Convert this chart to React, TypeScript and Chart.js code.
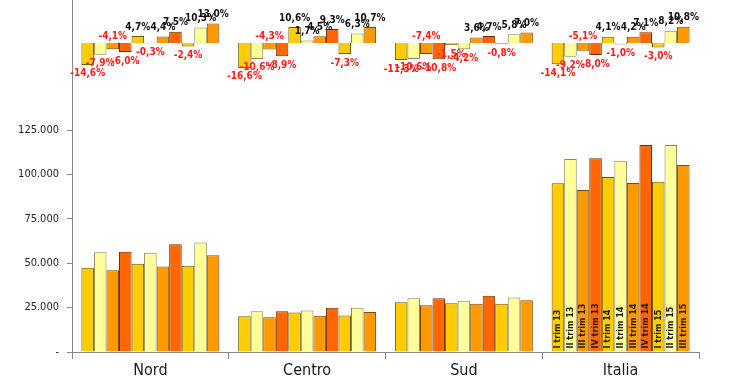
import React, { useEffect, useRef } from 'react';
import { Chart, registerables } from 'chart.js';

Chart.register(...registerables);

const regions = ['Nord', 'Centro', 'Sud', 'Italia'];
const quarters = ['I trim 13', 'II trim 13', 'III trim 13', 'IV trim 13', 'I trim 14', 'II trim 14', 'III trim 14', 'IV trim 14', 'I trim 15', 'II trim 15', 'III trim 15'];

// values per quarter (same order as quarters)
const nord = [47500, 56100, 46000, 56450, 49750, 55900, 48200, 60650, 48600, 61700, 54450];
const centro = [20100, 22900, 19550, 22900, 22200, 23300, 20450, 24950, 20600, 24950, 22550];
const sud = [27950, 30250, 26300, 30200, 27450, 28900, 27200, 31650, 27200, 30700, 29100];
const italia = [94950, 108700, 91200, 109050, 98600, 107700, 95150, 116550, 95800, 116500, 105300];

// year-over-year % change per quarter
const nordPct = [-14.6, -7.9, -4.1, -6.0, 4.7, -0.3, 4.4, 7.5, -2.4, 10.3, 13.0];
const centroPct = [-16.6, -10.6, -4.3, -8.9, 10.6, 1.7, 4.5, 9.3, -7.3, 6.3, 10.7];
const sudPct = [-11.3, -10.6, -7.4, -10.8, -1.5, -4.2, 3.6, 4.7, -0.8, 5.8, 7.0];
const italiaPct = [-14.1, -9.2, -5.1, -8.0, 4.1, -1.0, 4.2, 7.1, -3.0, 8.2, 10.8];

const yTickValues = [0, 25000, 50000, 75000, 100000, 125000];
// series whose % labels sit above the zero line
const labelAboveBase = ['III trim 13'];

const fills = ['#FFCC00', '#FFFF99', '#FF9900', '#FF6600'];
const borders = ['#6e5800', '#85855e', '#7e4a00', '#6e2a00'];
const FONT = "Tahoma, 'DejaVu Sans Condensed', 'Liberation Sans', sans-serif";

function fmt(v: number): string {
  if (v === 0) return '-';
  return String(Math.round(v)).replace(/\B(?=(\d{3})+(?!\d))/g, '.');
}

function fmtPct(v: number): string {
  return v.toFixed(1).replace('.', ',') + '%';
}

export default function App() {
  const ref = useRef<HTMLCanvasElement | null>(null);

  useEffect(() => {
    if (!ref.current) return;
    const values = [nord, centro, sud, italia];
    const pcts = [nordPct, centroPct, sudPct, italiaPct];
    const datasets: any[] = [];
    quarters.forEach((q, i) => {
      const c = fills[i % 4];
      const b = borders[i % 4];
      datasets.push({
        label: q,
        data: values.map((arr) => arr[i]),
        yAxisID: 'y',
        stack: 's' + i,
        backgroundColor: c,
        borderColor: b,
        borderWidth: 1,
        _kind: 'main',
      });
      datasets.push({
        label: q,
        data: pcts.map((arr) => arr[i]),
        yAxisID: 'y2',
        stack: 's' + i,
        backgroundColor: c,
        borderColor: b,
        borderWidth: 1,
        _kind: 'pct',
      });
    });

    const labelPlugin = {
      id: 'labels',
      afterDatasetsDraw(chart: any) {
        const ctx = chart.ctx;
        ctx.save();
        chart.data.datasets.forEach((ds: any, di: number) => {
          const meta = chart.getDatasetMeta(di);
          if (ds._kind === 'pct') {
            ctx.font = `bold 10px ${FONT}`;
            ctx.textAlign = 'center';
            ctx.textBaseline = 'middle';
            const above = labelAboveBase.includes(ds.label);
            meta.data.forEach((el: any, j: number) => {
              const v = ds.data[j];
              if (v >= 0) {
                ctx.fillStyle = '#111111';
                ctx.fillText(fmtPct(v), el.x, el.y - 9);
              } else {
                ctx.fillStyle = '#FF1A1A';
                if (above) ctx.fillText(fmtPct(v), el.x, el.base - 7);
                else ctx.fillText(fmtPct(v), el.x, el.y + 9);
              }
            });
          } else {
            const el = meta.data[3];
            if (!el) return;
            ctx.save();
            ctx.translate(el.x, el.base - 3);
            ctx.rotate(-Math.PI / 2);
            ctx.font = `bold 9px ${FONT}`;
            ctx.textAlign = 'left';
            ctx.textBaseline = 'middle';
            ctx.fillStyle = '#1a1a1a';
            ctx.fillText(ds.label, 0, 0);
            ctx.restore();
          }
        });
        ctx.restore();
      },
    };

    const chart = new Chart(ref.current, {
      type: 'bar',
      data: { labels: regions, datasets },
      plugins: [labelPlugin],
      options: {
        animation: false,
        responsive: false,
        maintainAspectRatio: false,
        categoryPercentage: 0.88,
        barPercentage: 1.0,
        layout: { padding: { left: 0, right: 41, top: 0, bottom: 0 } },
        plugins: {
          legend: { display: false },
          tooltip: { enabled: false },
        },
        scales: {
          x: {
            offset: true,
            grid: { offset: true, drawOnChartArea: false, drawTicks: true, tickLength: 7, color: '#888888' },
            border: { color: '#888888' },
            ticks: { color: '#1a1a1a', font: { family: FONT, size: 16 }, padding: 2 },
            afterFit: (s: any) => { s.height = 37; s.paddingTop = 0; },
          } as any,
          y: {
            stacked: false,
            min: 0,
            max: 198200,
            grid: { drawOnChartArea: false, drawTicks: true, tickLength: 5, color: '#888888' },
            border: { color: '#888888' },
            ticks: {
              color: '#22223a',
              padding: 8,
              font: { family: FONT, size: 11 },
              callback: (v: any) => fmt(Number(v)),
            },
            afterBuildTicks: (s: any) => { s.ticks = yTickValues.map((v) => ({ value: v })); },
            afterFit: (s: any) => { s.width = 72; s.paddingTop = 0; },
          } as any,
          y2: {
            axis: 'y',
            position: 'right',
            display: false,
            stacked: false,
            min: -206,
            max: 28.67,
          } as any,
        },
      },
    });
    return () => chart.destroy();
  }, []);

  return (
    <div style={{ position: 'fixed', left: 0, top: 0, width: 740, height: 389 }}>
      <canvas ref={ref} width={740} height={389} style={{ width: 740, height: 389, display: 'block' }} />
    </div>
  );
}
